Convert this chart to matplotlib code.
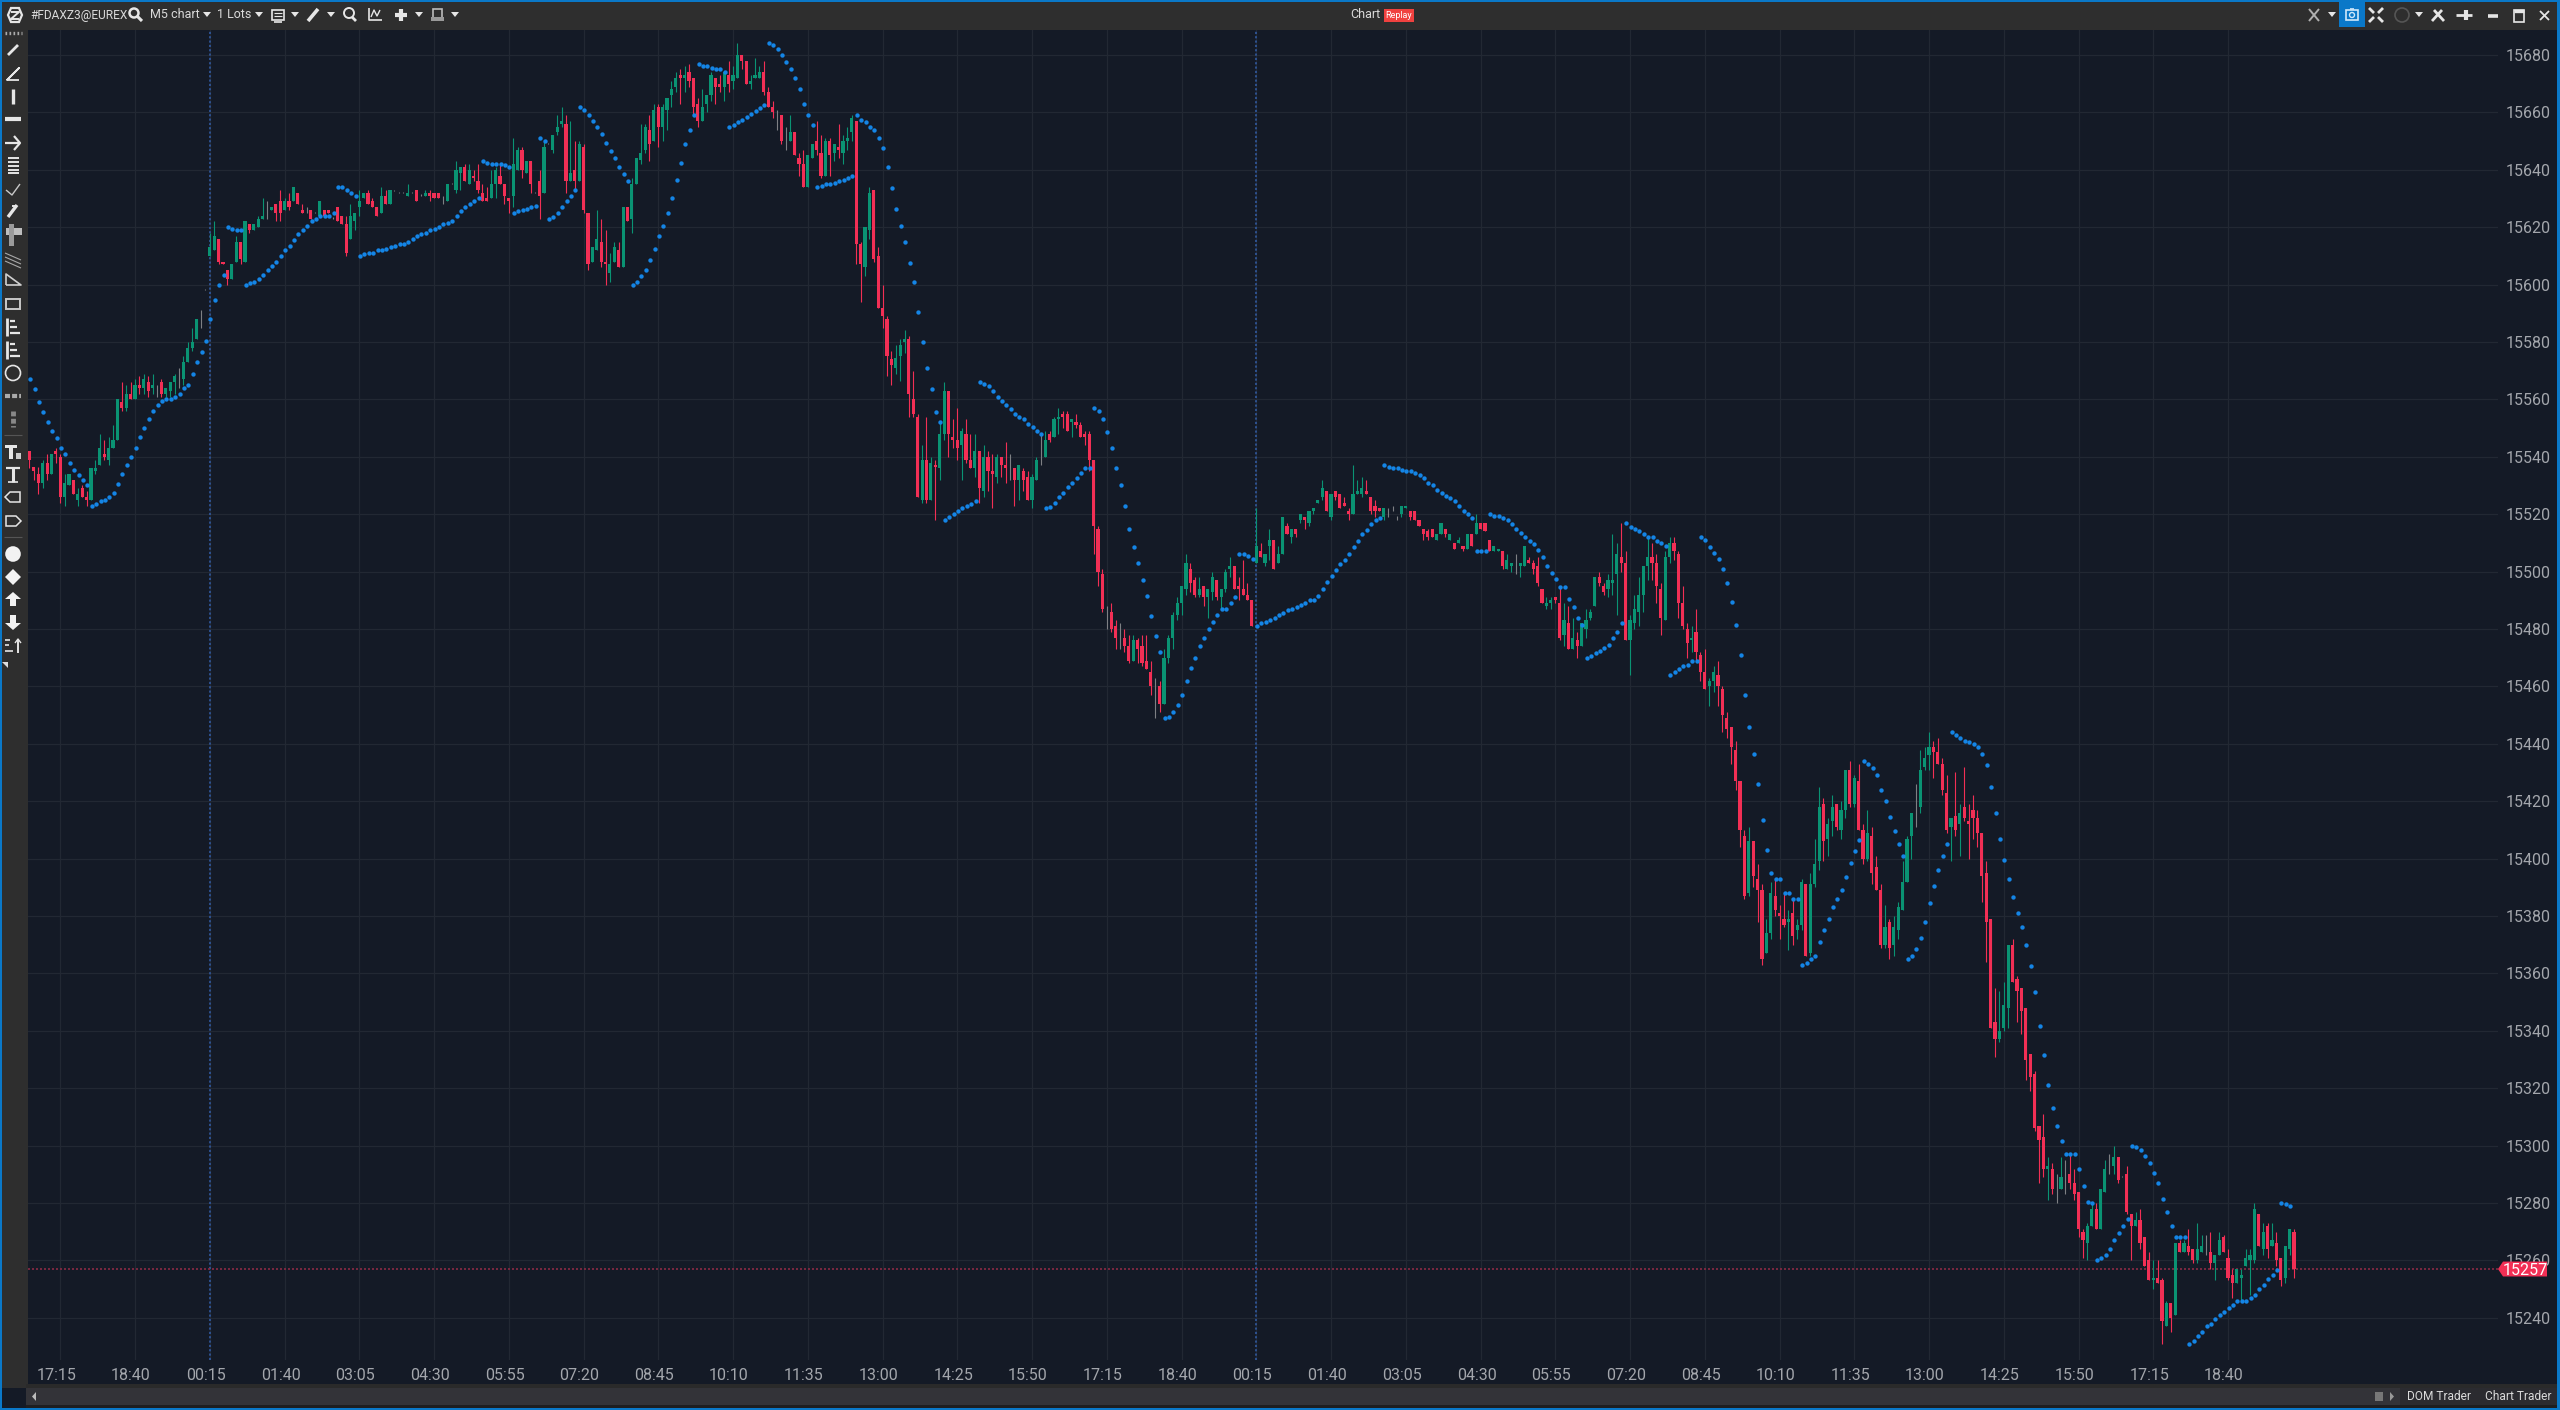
import numpy as np
import matplotlib
matplotlib.use('Agg')
import matplotlib.pyplot as plt
from matplotlib.patches import Rectangle, Polygon, Circle
from matplotlib.transforms import ScaledTranslation

plt.rcParams['font.family'] = ['Roboto', 'DejaVu Sans']

opens = [
    15542,15536.5,15534,15531,15538,15534,15542,15540,15526,15530,
    15532,15525,15529,15526,15525,15535,15537,15541,15539,15543,
    15546,15559,15557,15562,15560,15565,15564,15566,15564,15563,
    15566,15562,15563,15566,15566,15567,15573,15578,15581,15588,
    15598,15610,15612,15616,15608,15605,15602,15608,15615,15608,
    15621,15619,15620,15623,15626,15626,15628,15629,15626,15629,
    15629,15632,15626,15626,15626,15625,15624,15626,15626,15623,
    15627,15624,15621,15616,15622,15627,15630,15632,15629,15627,
    15625,15631,15628,15632.5,15632,15632,15631,15632,15633,15631,
    15631,15632,15632,15632,15630,15629,15635,15633,15639,15641,
    15635,15638,15636,15632,15630,15630,15635,15638,15635,15630,
    15631,15640,15647,15639,15643,15632,15636,15632,15649,15647,
    15653,15656,15656,15636,15640,15636,15648,15625,15608,15612,
    15615,15608,15604,15608,15612,15606,15627,15623,15635,15643.5,
    15647,15654,15650,15662,15655,15661,15666,15669,15673,15672,
    15674,15672,15663,15657,15663,15666,15672,15670,15669,15673,
    15671,15672,15680,15678,15670,15672,15672,15674,15667,15662,
    15660,15659,15652,15650,15653,15644,15642,15634,15644,15650,
    15646,15638,15650,15646,15648,15646,15650,15653,15657,15614,
    15606,15619,15633,15610,15592,15588,15574,15571,15575,15580,
    15581,15560,15554,15525,15539,15525,15537,15536,15548,15563,
    15547,15546,15544,15548,15539,15536,15542,15528,15540,15535,
    15533,15540,15537,15534,15536,15532,15535,15533,15525,15532,
    15545,15540,15548,15547,15553,15555,15555,15552,15552,15551,
    15548,15548,15539,15515,15499,15485,15486,15481,15478,15477,
    15474,15469,15476,15474,15469,15465,15460,15460,15454,15470,
    15477,15485,15489,15494,15501,15497,15492,15495,15491,15493,
    15497,15491,15494,15501,15502,15495,15494,15492,15490,15503,
    15507,15503,15509,15511,15503,15506,15516,15512,15515,15518,
    15519,15517,15521,15524,15526,15528,15519,15528,15527,15524,
    15521,15520,15527,15527,15528,15526,15523,15522,15519,15520,
    15522,15519,15520,15522,15521,15521,15518,15515,15514,15515,
    15511,15513,15515,15511,15510,15510,15509,15508,15513,15513,
    15517,15517,15511,15507,15507,15507,15501,15502,15503,15502,
    15502,15504,15503,15502,15494,15488,15489,15491,15489,15478,
    15482,15473,15476,15474,15480,15484,15488,15498,15495,15494,
    15496,15499,15505,15503,15476,15482,15486,15492,15502,15505,
    15503,15494,15483,15505,15510,15506,15489,15480,15476,15479,
    15471,15465,15460,15462,15464,15459,15449,15446,15438,15427,
    15408,15388,15406,15393,15389,15367,15374,15387,15381,15379,
    15378,15381,15375,15377,15391,15367,15391,15399,15419,15407,
    15413,15419,15410,15417,15431,15419,15427,15410,15400,15408,
    15397,15389,15370,15378,15370,15375,15382,15392,15408,15420,
    15418,15432,15436,15439,15437,15433,15423,15411,15415,15412,
    15418,15413,15417,15414,15409,15395,15379,15343,15337,15341,
    15348,15370,15358,15355,15348,15332,15325,15307,15303,15292,
    15292,15288,15285,15288,15290,15287,15284,15270,15266,15272,
    15278,15271,15284,15294,15293,15296,15289,15290,15276,15272,
    15274,15268,15260,15253,15254,15253,15237,15245,15241,15266,
    15263,15265,15264,15260,15263,15264,15263,15259,15262,15268,
    15261,15255,15252,15254,15258,15260,15260,15276,15264,15272,
    15265,15266,15261,15254,15264,15270,
]
highs = [
    15542,15536.5,15536.5,15539,15541,15541,15543,15541,15534,15534,
    15532,15529,15530,15528,15536,15539,15548,15546,15547,15551,
    15560,15566,15565,15566,15567,15568,15569,15568,15569,15565,
    15567,15564,15566,15569,15571,15575,15580,15585,15588,15591,
    15598.4,15618,15622,15616,15608,15605,15607,15617,15615,15622,
    15621,15621,15624,15630,15629,15627,15628,15633,15630,15632,
    15634,15632,15628,15627,15626,15625.4,15629,15626,15626,15623.4,
    15627,15624,15624,15628,15625,15633,15632,15633,15630,15627,
    15634,15633,15633,15633,15632.4,15632.4,15635,15632.4,15633,15631.4,
    15633,15633,15632,15632,15631,15635,15635.4,15643,15641,15642,
    15642,15640,15642,15635,15634,15640,15641,15642,15635,15630,
    15651,15648,15648,15643,15643,15632.4,15640,15650,15649.4,15652,
    15659,15662,15659,15657,15650,15650,15649,15625,15613,15626,
    15623,15619,15611,15615,15615,15627,15627,15637,15644,15656,
    15656,15659,15663,15663,15663,15665,15671,15674,15675,15676,
    15677,15672,15665,15668,15666,15674,15672,15673,15674,15678,
    15676,15684,15680,15678,15673,15679,15676,15678,15669,15664,
    15661,15659,15655,15659,15653,15646,15647,15645,15649,15657,
    15652,15651,15651,15649,15656,15652,15655,15659,15657,15615,
    15620,15634,15633,15613,15600,15589,15577,15579,15581,15584,
    15582,15570,15555,15544,15554,15540,15539,15552,15566,15563,
    15553,15557,15550,15553,15548,15548,15542,15544,15542,15541,
    15541,15540,15545,15541,15536,15537,15536,15535,15534,15540,
    15548,15549,15549,15554,15557,15556,15556,15553,15555,15552,
    15549,15549,15539,15516,15501,15488,15489,15483,15482,15480,
    15478,15478,15477,15478,15478,15469,15463,15462,15473,15478,
    15486,15491,15495,15506,15503,15498,15498,15495,15494,15500,
    15497,15494,15501,15505,15502,15498,15504,15496,15490,15522,
    15510,15506,15515,15511,15509,15519,15517,15515,15515,15520,
    15519,15521,15522,15525,15532,15528,15527,15528,15527,15526,
    15522,15537,15532,15533,15532,15526,15525,15522,15522,15522,
    15523,15519.4,15523,15523,15521,15521,15518,15515,15515,15515,
    15513,15517,15515,15513,15510,15512,15509,15513,15513,15520,
    15517,15517,15511,15509,15508,15507,15506,15503,15506,15503,
    15509,15505,15504,15505,15494,15491,15491,15491,15495,15489,
    15488,15484,15479,15482,15487,15487,15498,15500,15496,15499,
    15513,15510,15517,15507,15485,15492,15498,15502,15512,15510,
    15506,15496,15507,15512,15512,15507,15495,15482,15481,15487,
    15472,15473,15463,15467,15469,15460,15451,15446,15441,15427,
    15410,15411,15406,15398,15391,15379,15392,15393,15384,15388,
    15382,15386,15379,15393,15391,15395,15407,15425,15421,15414,
    15422,15419,15420,15431,15434,15429,15433,15412,15417,15411,
    15401,15391,15384,15379,15380,15385,15399,15408,15416,15426,
    15438,15439,15444,15441,15442,15435,15429,15414,15430,15419,
    15432,15419,15422,15417,15409,15399,15379,15355,15354,15357,
    15370,15372,15359,15355,15348,15332,15326,15307,15311,15296,
    15294,15290,15296,15295,15297,15292,15284,15271,15273,15280,
    15280,15285,15295,15297,15300,15296,15289.4,15293,15276,15277,
    15278,15268,15263,15260,15260,15254,15246,15245,15266,15267,
    15267,15271,15264,15273,15269,15269,15270,15262,15270,15269,
    15264,15257,15257,15257,15264,15264,15280,15276,15273,15273,
    15273,15270,15261,15265,15271,15271,
]
lows = [
    15536,15532,15527,15529,15532,15534,15538,15524,15523,15530,
    15527,15523,15526,15523,15525,15534,15537,15539,15537,15543,
    15546,15556,15556,15560,15560,15562,15562,15561,15562,15561,
    15561,15561,15561,15562,15564,15565,15573,15577,15581,15585,
    15598,15610,15612,15607,15607,15600,15602,15608,15607,15608,
    15618,15619,15620,15623,15623,15626,15622,15622,15626,15626,
    15629,15628,15625,15625,15623,15625,15624,15624,15625,15623,
    15622,15621,15610,15616,15619,15624,15630,15628,15627,15624,
    15625,15628,15628,15632.5,15632,15632,15631,15632,15629,15631,
    15631,15629,15630,15630,15628,15629,15635,15632,15633,15636,
    15635,15636,15632,15629,15629,15630,15630,15635,15628,15625,
    15627,15640,15637,15639,15632,15632,15623,15632,15649,15646,
    15652,15655,15632,15636,15633,15636,15625,15605,15608,15612,
    15606,15600,15601,15608,15606,15606,15622,15618,15635,15642,
    15646,15643,15650,15648,15650,15654,15662,15667,15663,15667,
    15669,15659,15655,15657,15660,15664,15663,15667,15664,15667,
    15668,15672,15675,15670,15668,15672,15672,15666,15662,15658,
    15654,15649,15647,15650,15645,15638,15634,15634,15644,15645,
    15637,15638,15638,15643,15644,15642,15647,15650,15607,15594,
    15603,15616,15608,15592,15585,15568,15565,15569,15566.5,15576,
    15554,15554,15526,15524,15524,15525,15518,15532,15546,15540,
    15543,15539,15532,15538,15536,15533,15524,15526,15528,15522,
    15531,15533,15531,15532,15523,15525,15528,15525,15522,15532,
    15537,15540,15545,15547,15548,15550,15549,15547,15550,15547,
    15544,15535,15506,15495,15486,15480,15479,15473,15473,15472,
    15468,15469,15468,15467,15466,15457,15449,15451,15454,15468,
    15473,15483,15485,15492,15493,15491,15491,15488,15484,15490,
    15490,15487,15493,15498,15494,15490,15492,15490,15481,15503,
    15505,15502,15504,15501,15503,15506,15513,15510,15512,15517,
    15515,15516,15520,15524,15525,15521,15518,15525,15522,15523,
    15518,15520,15527,15526,15527,15520,15519,15521,15518,15519,
    15521,15518,15519,15522,15518,15518,15516,15511,15511,15512,
    15511,15513,15512,15511,15508,15510,15507,15508,15509,15513,
    15515,15514,15507,15507,15507,15501,15501,15500,15499,15498,
    15502,15503,15499,15495,15489,15487,15487,15489,15476,15474,
    15473,15473,15470,15474,15477,15483,15488,15495,15492,15491,
    15492,15485,15500,15476,15464,15480,15481,15486,15497,15497,
    15489,15478,15483,15503,15504,15484,15480,15470,15472,15469,
    15462,15459,15453,15458,15453,15444,15442,15433,15424,15404,
    15386,15387,15390,15378,15363,15367,15372,15380,15372,15376,
    15368,15370,15372,15375,15366,15366,15390,15396,15399,15401,
    15408,15410,15407,15414,15418,15418,15410,15398,15399,15391,
    15389,15369,15369,15365,15366,15372,15382,15392,15400,15411,
    15416,15431,15431,15428,15433,15422,15409,15399,15408,15401,
    15413,15400,15407,15404,15385,15364,15341,15331,15336,15340,
    15341,15357,15343,15339,15323,15319,15305,15287,15289,15281,
    15283,15280,15285,15283,15285,15281,15268,15261,15260,15272,
    15271,15271,15284,15290,15290,15287,15289,15276,15260,15272,
    15264,15258,15253,15250,15252,15231,15237,15235,15241,15263,
    15263,15262,15259,15259,15263,15262,15257,15253,15262,15263,
    15253,15247,15252,15246,15258,15248,15259,15265,15262,15261,
    15265,15258,15251,15252,15262,15254,
]
closes = [
    15539,15535,15531,15538,15534,15541,15541,15526,15531,15534,
    15527,15527,15526,15525,15536,15536,15543,15540,15543,15546,
    15560,15557,15562,15560,15565,15564,15567,15563,15565,15563,
    15562,15564,15566,15568,15566,15573,15578,15580,15588,15588,
    15598,15613,15617,15608,15607,15602,15607,15615,15609,15622,
    15619,15621,15623,15624,15626,15627,15625,15625,15629,15627,
    15634,15628,15625,15626,15623,15625,15629,15624,15625,15623,
    15622,15621,15611,15624,15625,15629,15632,15628,15627,15624,
    15631,15628,15633,15632.5,15632,15632,15632,15632,15629,15631,
    15632,15631,15630,15630,15630,15635,15635,15640,15641,15636,
    15640,15637,15633,15629,15629,15635,15640,15635,15631,15629,
    15642,15647,15640,15643,15635,15632,15631,15648,15649,15652,
    15655,15657,15636,15639,15636,15649,15626,15607,15613,15616,
    15608,15607,15607,15613,15606,15627,15622,15635,15644,15646,
    15655,15649,15661,15655,15662,15665,15668,15672,15672,15673,
    15671,15662,15657,15662,15666,15673,15669,15669,15674,15670,
    15673,15680,15678,15670,15671,15673,15674,15667,15662,15660,
    15660,15650,15652,15653,15645,15642,15634,15645,15649,15647,
    15638,15650,15645,15649,15647,15650,15651,15658,15614,15607,
    15620,15632,15609,15592,15589,15575,15572,15574.5,15579,15581,
    15562,15555,15526,15539,15525,15538,15536.5,15548,15563,15548,
    15546,15543,15549,15539,15536,15542,15529,15540,15535,15534,
    15540,15537,15536,15534,15532,15537,15532,15525,15533,15539,
    15545,15546,15546,15553,15554,15554,15549,15553,15551,15547,
    15547,15539,15516,15500,15487,15485,15480,15477,15478,15474,
    15469,15476,15473,15468,15466,15460,15460,15454,15470,15477,
    15485,15489,15495,15503,15496,15492,15494,15491,15494,15498,
    15491,15494,15500,15502,15494,15494,15492,15490,15481,15509,
    15505,15506,15511,15501,15506,15519,15513,15515,15513,15520,
    15518,15521,15522,15525,15529,15521,15527,15526,15522,15523,
    15520,15527,15528,15529,15527,15521,15521,15521,15522,15520,
    15522,15519,15523,15523,15519,15518,15516,15513,15512,15512,
    15513,15517,15513,15513,15508,15511,15508,15513,15509,15517,
    15515,15514,15507,15509,15508,15502,15504,15503,15503,15503,
    15509,15503,15501,15496,15489,15489,15490,15490,15477,15483,
    15473,15477,15474,15482,15483,15486,15498,15496,15493,15497,
    15497,15506,15503,15476,15483,15487,15492,15502,15505,15503,
    15495,15484,15505,15510,15507,15489,15481,15475,15477,15472,
    15465,15459,15462,15465,15460,15450,15445,15439,15427,15410,
    15387,15406,15394,15389,15365,15374,15388,15382,15380,15377,
    15379,15373,15377,15392,15366,15391,15398,15418,15406,15412,
    15418,15411,15417,15431,15419,15428,15410,15400,15409,15395,
    15389,15370,15376,15369,15376,15383,15392,15407,15416,15420,
    15431,15435,15439,15437,15433,15424,15410,15414,15410,15416,
    15414,15412,15414,15409,15394,15378,15341,15337,15340,15349,
    15370,15357,15354,15347,15330,15324,15306,15302,15292,15293,
    15285,15288,15289,15288,15287,15283,15271,15267,15272,15278,
    15271,15285,15292,15294,15296,15288,15289,15277,15272,15274,
    15266,15258,15253,15254,15252,15239,15245,15240,15266,15263,
    15266,15263,15260,15264,15265,15264,15259,15262,15267,15263,
    15254,15252,15257,15255,15261,15262,15278,15265,15270,15264,
    15267,15260,15253,15265,15271,15257,
]
sar = [
    15567,15563.5,15559,15555.5,15552,15549,15546.5,15543,15541,15538,
    15535.5,15533.5,15532,15530,15523,15523.5,15524.5,15525,15526,15527.5,
    15530.5,15534,15537,15540,15543,15547,15550,15553,15556,15558,
    15559.5,15560,15560,15561,15562,15564,15565,15569,15573,15576.5,
    15580.5,15588,15594.5,15600,15603.5,15620,15619.5,15619,15619,15600,
    15600.5,15601,15602,15603.5,15605,15606.5,15608,15610,15612,15613.5,
    15615.5,15617.5,15619,15620.5,15622,15623,15624,15624,15624,15625,
    15634,15634,15633,15632,15631,15610,15610.5,15611,15611,15612,
    15612,15612.5,15613,15613.5,15614,15614,15615,15616,15617,15617.5,
    15618,15619,15619.5,15620,15621,15621.5,15622,15624,15625.5,15627,
    15628,15629,15630,15643,15642.5,15642,15642,15642,15641.5,15641,
    15625,15625.5,15626,15626.5,15627,15627.5,15651,15650,15623,15623.5,
    15625,15627,15629,15631,15633,15662,15661,15659,15657,15655,
    15652.5,15649.5,15646.5,15644,15641,15638.5,15636,15600,15601,15603,
    15605,15608.5,15612.5,15617,15620.5,15625,15630,15636.5,15642.5,15649,
    15654,15659,15677,15676,15676,15675.5,15675,15675,15674,15655,
    15655.5,15656.5,15657.5,15658.5,15659.5,15660.5,15661.5,15662.5,15684,15683.5,
    15682,15680,15677.5,15675,15672,15668,15663,15659,15655.5,15634,
    15634.5,15635,15635,15635.5,15636,15636.5,15637,15638,15659,15657.5,
    15656.5,15655,15654,15651,15647.5,15641,15633.5,15626.5,15620.5,15615,
    15607.5,15601,15590.5,15580,15571,15563.5,15555.5,15552,15518,15519,
    15520,15521,15522,15523,15523.5,15524.5,15566,15565.5,15564.5,15563,
    15561,15559.5,15558,15556.5,15555,15554,15553,15551.5,15550.5,15549,
    15548,15522,15522.5,15524,15526,15527.5,15529.5,15531,15532.5,15534.5,
    15536,15536,15557,15556,15553,15548.5,15543,15536,15530,15523,
    15515,15508.5,15503,15497,15491.5,15484.5,15477.5,15472,15449,15449.5,
    15451,15453.5,15457,15462,15466.5,15470,15474,15477,15480,15482.5,
    15485,15487,15487,15489,15491,15506,15506,15505.5,15504.5,15481,
    15482,15482.5,15483,15484,15485,15485.5,15486.5,15487,15487.5,15488.5,
    15489,15490,15490,15491.5,15494,15496.5,15498.5,15500.5,15502.5,15504,
    15506,15508.5,15510.5,15513,15514.5,15516.5,15518,15518.5,15537,15536.5,
    15536,15536,15535.5,15535,15535,15534.5,15533.5,15532.5,15531,15530,
    15528.5,15527.5,15526.5,15525.5,15524.5,15523,15521,15520,15518.5,15507,
    15507,15507,15520,15519.5,15519.5,15518.5,15518,15516.5,15515,15513.5,
    15512,15510.5,15509.5,15507.5,15505,15502,15499.5,15497.5,15494.5,15494.5,
    15490.5,15487.5,15484,15481.5,15470,15470.5,15471.5,15472.5,15473.5,15474.5,
    15477,15479,15482,15517,15515.5,15515,15514,15513,15512,15512,
    15510.5,15510,15509,15464,15465,15466,15467,15467.5,15469,15469,
    15512,15511,15508.5,15506.5,15504.5,15501,15496,15489.5,15481.5,15471,
    15457,15446,15436.5,15426,15413.5,15403,15395,15393,15393,15388,
    15388,15386,15386,15363,15363.5,15365,15366,15371,15375,15379,
    15383,15386,15389,15393.5,15398.5,15402.5,15406.5,15434,15433,15431.5,
    15429,15424,15420,15414.5,15409.5,15405,15401,15365,15366,15368.5,
    15372.5,15378,15384.5,15390.5,15396,15401,15405,15444,15443,15442,
    15441,15440.5,15440,15439,15436.5,15432.5,15425,15416,15407,15399.5,
    15393,15386.5,15381,15376,15370,15362.5,15353.5,15341.5,15331.5,15321,
    15313,15307,15301.5,15297,15297,15297,15292,15286,15280.5,15280,
    15260,15261,15262,15264,15267,15269.5,15272,15274.5,15300,15299.5,
    15298.5,15296.5,15294,15290.5,15287,15281.5,15277,15272,15268,15268,
    15268,15231,15232,15233.5,15235,15237,15238,15239.5,15241,15242,
    15243.5,15244.5,15246,15246,15246,15247,15248,15250,15251.5,15253.5,
    15255,15256.5,15280,15279.5,15279,
]
price_ticks = list(range(15240, 15681, 20))
time_idx = [7, 24, 41, 58, 75, 92, 109, 126, 143, 160, 177, 194, 211, 228, 245,
            262, 279, 296, 313, 330, 347, 364, 381, 398, 415, 432, 449, 466, 483, 500]
time_labels = ['17:15', '18:40', '00:15', '01:40', '03:05', '04:30', '05:55', '07:20',
               '08:45', '10:10', '11:35', '13:00', '14:25', '15:50', '17:15', '18:40',
               '00:15', '01:40', '03:05', '04:30', '05:55', '07:20', '08:45', '10:10',
               '11:35', '13:00', '14:25', '15:50', '17:15', '18:40']
session_idx = [41, 279]
last_price = 15257

BG = '#141A26'
PANEL = '#2E2E2E'
BLUE = '#0A78C8'
GRID = '#222833'
UP = '#0A9373'
DOWN = '#F22F55'
DOJI = '#7E8084'
DOT = '#1485E6'
ICON = '#E6E6E6'
W, H = 2560, 1410

o = np.array(opens)
h = np.array(highs)
l = np.array(lows)
c = np.array(closes)
idx = np.arange(len(o))
colors = np.where(c > o, UP, np.where(c < o, DOWN, DOJI))

fig = plt.figure(figsize=(W / 100, H / 100), dpi=100, facecolor=BG)
ax = fig.add_axes([28 / W, 1 - 1360 / H, 2470 / W, 1330 / H], facecolor=BG)
ax.set_xlim(-0.341, 561.4)
ax.set_ylim(15225.3, 15688.7)
for s in ax.spines.values():
    s.set_visible(False)

ax.set_axisbelow(True)
ax.grid(True, color=GRID, lw=0.85)
ax.yaxis.tick_right()
ax.set_yticks(price_ticks)
ax.set_yticklabels([str(p) for p in price_ticks])
ax.set_xticks(time_idx)
ax.set_xticklabels(time_labels)
ax.tick_params(length=0, labelsize=11.5, labelcolor='#A3A6AC')
ax.tick_params(axis='y', pad=5.5)
ax.tick_params(axis='x', pad=5.6)
for lab in ax.get_xticklabels():
    lab.set_transform(lab.get_transform() + ScaledTranslation(-4 / 100, 0, fig.dpi_scale_trans))

# candles
ax.vlines(idx, l, h, colors=colors, lw=0.8, zorder=3)
body = c != o
ax.bar(idx[body], np.abs(c - o)[body], bottom=np.minimum(o, c)[body], width=0.72,
       color=colors[body], linewidth=0, zorder=3)

# parabolic sar
ax.scatter(np.arange(len(sar)) + 0.15, sar, s=10, color=DOT, linewidths=0, zorder=4)

for x in session_idx:
    ax.axvline(x, color='#2F5597', lw=1.3, ls=(0, (1.2, 1.2)), zorder=2)
ax.axhline(last_price, color='#8A2A45', lw=1.2, ls=(0, (1.2, 1.2)), zorder=2)

# last price tag
tag = [(1, last_price), (1 + 5 / 2470, last_price + 2.6), (1 + 49 / 2470, last_price + 2.6),
       (1 + 49 / 2470, last_price - 2.6), (1 + 5 / 2470, last_price - 2.6)]
ax.add_patch(Polygon(tag, transform=ax.get_yaxis_transform(), clip_on=False,
                     color='#F22F55', lw=0, zorder=10))
ax.text(1 + 27 / 2470, last_price, str(last_price), transform=ax.get_yaxis_transform(),
        color='white', fontsize=11.5, ha='center', va='center_baseline', zorder=11)

# window chrome, pixel coordinates
ui = fig.add_axes([0, 0, 1, 1], facecolor='none')
ui.set_xlim(0, W)
ui.set_ylim(H, 0)
ui.axis('off')


def rect(x, y, w, hh, color, **kw):
    ui.add_patch(Rectangle((x, y), w, hh, facecolor=color, edgecolor='none', **kw))


def box(x, y, w, hh, color=ICON, lw=1.2):
    ui.add_patch(Rectangle((x, y), w, hh, facecolor='none', edgecolor=color, lw=lw))


def seg(xs, ys, lw=1.2, color=ICON, **kw):
    ui.plot(xs, ys, color=color, lw=lw, solid_capstyle='butt', **kw)


def tri(x, y, color=ICON):
    ui.add_patch(Polygon([(x - 4, y - 2), (x + 4, y - 2), (x, y + 3)], color=color, lw=0))


def ring(x, y, r, color=ICON, lw=1.2):
    ui.add_patch(Circle((x, y), r, facecolor='none', edgecolor=color, lw=lw))


rect(0, 0, W, 30, PANEL)
rect(0, 30, 28, 1358, PANEL)
rect(26, 1384, W, 4, '#2A2A2A')
rect(26, 1388, 2374, 17, '#333338')
rect(2400, 1388, 160, 17, '#2B2B30')
rect(26, 1405, 2534, 3, '#1E1E20')
rect(0, 0, W, 2, BLUE)
rect(0, H - 2, W, 2, BLUE)
rect(0, 0, 2, H, BLUE)
rect(W - 3, 0, 3, H, BLUE)

txt = dict(color='#DADADA', va='center', family=['Roboto', 'DejaVu Sans'])
ui.text(30, 15, '#FDAXZ3@EUREX', fontsize=8.6, **txt)
ui.text(150, 15, 'M5 chart', fontsize=9, **txt)
ui.text(217, 15, '1 Lots', fontsize=9, **txt)
ui.text(1350, 15, 'Chart', fontsize=9, **txt)
rect(1384, 9, 30, 13, '#F0413F')
ui.text(1399, 15.5, 'Replay', color='white', fontsize=6.5, ha='center', va='center')
ui.text(2407, 1397, 'DOM Trader', fontsize=8.6, **txt)
ui.text(2485, 1397, 'Chart Trader', fontsize=8.6, **txt)

# top left icons
ui.add_patch(Polygon([(8, 15), (11, 8), (19, 8), (22, 15), (19, 22), (11, 22)], facecolor='none', edgecolor=ICON, lw=1.6))
seg([11, 19, 11, 19], [12, 12, 19, 19], lw=1.4)
ring(134, 13, 4.5, lw=1.8)
seg([137, 142], [16, 21], lw=2.2)
for x in (207, 259, 295, 331, 419, 455, 2332, 2419):
    tri(x, 14)
box(272, 10, 12, 10)
seg([274, 282], [13, 13], lw=0.8)
seg([274, 282], [16, 16], lw=0.8)
seg([274, 282], [22, 22], lw=1.2)
seg([308, 318], [21, 9], lw=2.6)
ring(349, 13, 5, lw=1.4)
seg([352, 356], [17, 21], lw=2)
seg([369, 369, 382], [8, 20, 20], lw=1.2)
seg([371, 374, 377, 380], [17, 10, 16, 10], lw=1)
seg([395, 407], [15, 15], lw=3)
seg([401, 401], [9, 21], lw=3)
box(433, 9, 9, 11, color='#BBBBBB')
rect(431, 17, 13, 4, '#999999')

# top right icons
seg([2309, 2319], [21, 9], color='#B0B0B0', lw=1.4)
seg([2309, 2319], [9, 21], color='#B0B0B0', lw=1.4)
rect(2339, 2, 26, 25, '#0A78C8')
box(2346, 10, 12, 10, color='#CFE8FA')
seg([2350, 2354], [9, 9], color='#CFE8FA')
ring(2352, 15, 2.5, color='#CFE8FA', lw=1)
seg([2369, 2374], [8, 13], lw=2)
seg([2383, 2378], [8, 13], lw=2)
seg([2369, 2374], [22, 17], lw=2)
seg([2383, 2378], [22, 17], lw=2)
ring(2402, 15, 7, color='#555555')
seg([2432, 2442], [21, 10], lw=2)
seg([2434, 2444], [10, 21], lw=2)
seg([2456, 2472], [15, 15], lw=2)
seg([2466, 2466], [10, 20], lw=3)
seg([2488, 2498], [15.5, 15.5], lw=2.6)
box(2514, 10, 10, 12, lw=1.2)
seg([2514, 2524], [11, 11], lw=2.4)
seg([2540, 2549], [11, 20], lw=1.3)
seg([2549, 2540], [11, 20], lw=1.3)

# left drawing toolbar
seg([5, 22], [33, 33], lw=2.4, color='#AAAAAA', ls=(0, (0.5, 0.7)))
seg([8, 18], [55, 45], lw=2)
seg([7, 19, 7, 19], [80, 68, 80, 80], lw=1.3)
seg([13, 13], [89, 104], lw=2.4)
seg([5, 21], [119, 119], lw=3)
seg([5, 20], [143, 143], lw=1.6)
seg([14, 20, 14], [136, 143, 150], lw=1.6)
for y in (158, 162, 166, 170, 173):
    seg([8, 19], [y, y], lw=1.4)
seg([6, 12, 20], [190, 195, 184], lw=1, color='#C8C8C8')
seg([8, 17], [217, 205], lw=2.4)
seg([12, 17], [206, 206], lw=1.4)
rect(6, 228, 16, 7, '#BDBDBD')
rect(9, 224, 5, 22, '#9A9A9A')
for k in (0, 4, 8):
    seg([5, 21], [253 + k, 260 + k], lw=0.8, color='#A8A8A8')
seg([6, 6, 21, 6], [285, 274, 285, 285], lw=1.2, color='#CFCFCF')
box(6, 299, 14, 10, color='#C8C8C8', lw=1.4)
for y0 in (327, 350):
    seg([7, 7], [y0 - 9, y0 + 9], lw=2)
    seg([10, 15], [y0 - 6, y0 - 6], lw=1.6)
    seg([10, 17], [y0, y0], lw=1.6)
    seg([10, 20], [y0 + 6, y0 + 6], lw=1.6)
ring(13, 373, 7.5, lw=1.2)
seg([5, 21], [396, 396], lw=3, ls=(0, (1.2, 0.5)), color='#AAAAAA')
seg([13, 13], [411, 427], lw=3.5, ls=(0, (1.0, 0.5)), color='#888888')
seg([4, 22], [435, 435], lw=0.8, color='#555555')
rect(5, 445, 12, 3, ICON)
rect(9, 445, 4, 14, ICON)
rect(16, 453, 5, 6, '#CCCCCC')
seg([6, 20], [468, 468], lw=1.6)
seg([13, 13], [468, 482], lw=2.2)
seg([8, 18], [482, 482], lw=1.2)
ui.add_patch(Polygon([(5, 497), (10, 492), (20, 492), (20, 502), (10, 502)], facecolor='none', edgecolor=ICON, lw=1.1))
ui.add_patch(Polygon([(6, 516), (16, 516), (21, 521), (16, 526), (6, 526)], facecolor='none', edgecolor=ICON, lw=1.1))
seg([4, 22], [537, 537], lw=0.8, color='#555555')
ui.add_patch(Circle((13, 554), 7.8, color='#F2F2F2', lw=0))
ui.add_patch(Polygon([(13, 569), (21, 577), (13, 585), (5, 577)], color='#F2F2F2', lw=0))
ui.add_patch(Polygon([(13, 592), (21, 599), (16, 599), (16, 606), (10, 606), (10, 599), (5, 599)], color='#F2F2F2', lw=0))
ui.add_patch(Polygon([(13, 630), (21, 623), (16, 623), (16, 615), (10, 615), (10, 623), (5, 623)], color='#F2F2F2', lw=0))
for y, xe in ((640, 10), (645, 9), (651, 13)):
    seg([5, xe], [y, y], lw=1.2)
seg([18, 18], [640, 653], lw=1.4)
seg([15, 18, 21], [643, 639, 643], lw=1)
ui.add_patch(Polygon([(2, 662), (8, 662), (8, 668)], color='#DDDDDD', lw=0))

# scrollbar
ui.add_patch(Polygon([(36, 1392), (36, 1401), (32, 1396.5)], color='#BBBBBB', lw=0))
rect(2375, 1392, 8, 9, '#777777')
ui.add_patch(Polygon([(2390, 1392), (2390, 1401), (2394, 1396.5)], color='#999999', lw=0))

fig.savefig('out.png', dpi=100, facecolor=BG)
